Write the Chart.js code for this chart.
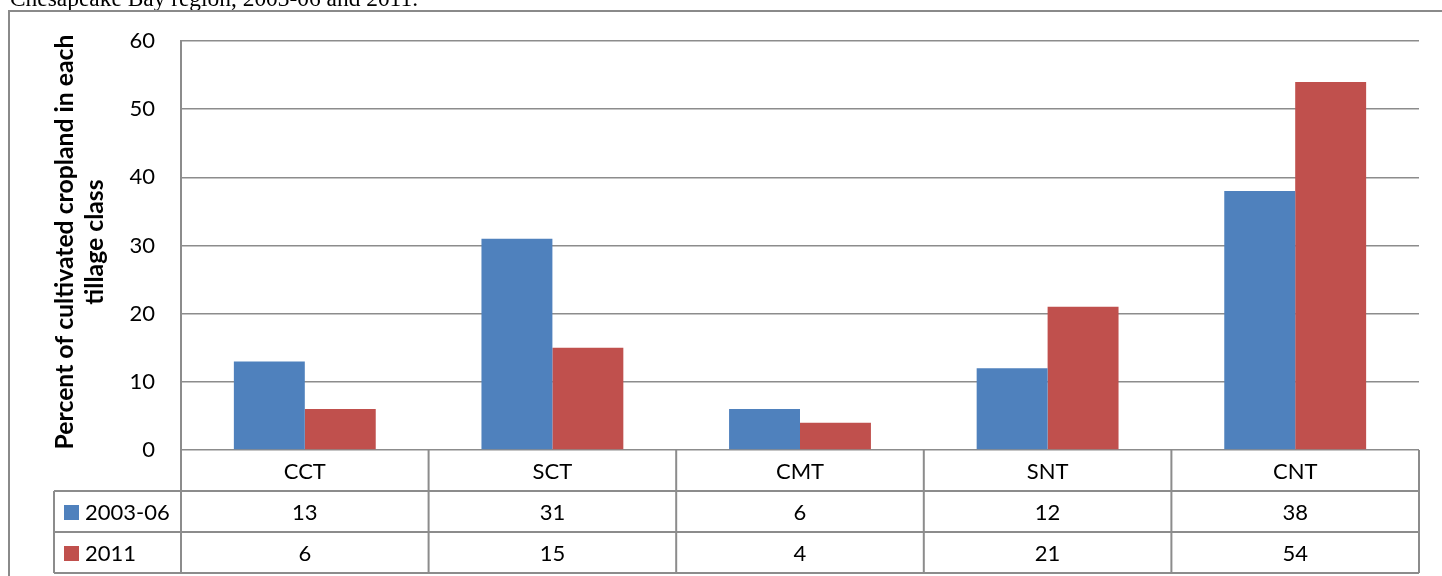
<!DOCTYPE html>
<html>
<head>
<meta charset="utf-8">
<script src="https://cdn.jsdelivr.net/npm/chart.js@4/dist/chart.umd.min.js"></script>
<style>
  html, body { margin: 0; padding: 0; background: #ffffff; }
  #c { display: block; }
</style>
</head>
<body>
<canvas id="c" width="1442" height="576"></canvas>
<script>
const categories = ["CCT", "SCT", "CMT", "SNT", "CNT"];
const series2003 = [13, 31, 6, 12, 38];
const series2011 = [6, 15, 4, 21, 54];
const seriesNames = ["2003-06", "2011"];
const yTicks = [0, 10, 20, 30, 40, 50, 60];
const pageTitle = "Chesapeake Bay region, 2003-06 and 2011.";
const yTitleLines = ["Percent of cultivated cropland in each", "tillage class"];

const BLUE = "#4F81BD";
const RED = "#C0504D";
const LINE = "#8c8c8c";
const FONT = "Lato, 'Noto Sans', sans-serif";

function fitFont(ctx, text, weight, family, target) {
  ctx.font = weight + " 100px " + family;
  const w = ctx.measureText(text).width;
  return 100 * target / w;
}

const decorPlugin = {
  id: "decor",
  afterDraw(chart) {
    const ctx = chart.ctx;
    const area = chart.chartArea;
    const xs = chart.scales.x;
    ctx.save();

    // page title (cut off at the top)
    const ts = fitFont(ctx, pageTitle, "normal", "'Liberation Serif', 'Times New Roman', serif", 408);
    ctx.font = ts.toFixed(2) + "px 'Liberation Serif', 'Times New Roman', serif";
    ctx.fillStyle = "#000";
    ctx.textAlign = "left";
    ctx.textBaseline = "alphabetic";
    ctx.fillText(pageTitle, 10, 6);

    // outer frame
    ctx.strokeStyle = "#8a8a8a";
    ctx.lineWidth = 2;
    ctx.beginPath();
    ctx.moveTo(9, 576);
    ctx.lineTo(9, 11);
    ctx.lineTo(1442, 11);
    ctx.stroke();

    // y-axis title
    const fs = fitFont(ctx, yTitleLines[0], "bold", FONT, 415);
    ctx.font = "bold " + fs.toFixed(2) + "px " + FONT;
    ctx.fillStyle = "#000";
    ctx.textAlign = "center";
    const cy = 242;
    const baseX = [73, 103];
    yTitleLines.forEach((t, i) => {
      ctx.save();
      ctx.translate(baseX[i], cy);
      ctx.rotate(-Math.PI / 2);
      ctx.fillText(t, 0, 0);
      ctx.restore();
    });

    // data table
    const n = categories.length;
    const colW = (area.right - area.left) / n;
    const top = area.bottom;
    const r1 = top + 41;
    const r2 = top + 82;
    const r3 = top + 123;
    const legendLeft = 54;

    ctx.strokeStyle = LINE;
    ctx.lineWidth = 2;
    ctx.beginPath();
    // horizontal lines
    ctx.moveTo(legendLeft, r1); ctx.lineTo(area.right, r1);
    ctx.moveTo(legendLeft, r2); ctx.lineTo(area.right, r2);
    ctx.moveTo(legendLeft, r3); ctx.lineTo(area.right, r3);
    // left column border
    ctx.moveTo(legendLeft, r1); ctx.lineTo(legendLeft, r3);
    // column borders
    for (let k = 0; k <= n; k++) {
      const x = area.left + k * colW;
      ctx.moveTo(x, top); ctx.lineTo(x, r3);
    }
    ctx.stroke();

    ctx.font = "22px " + FONT;
    ctx.fillStyle = "#000";
    ctx.textAlign = "center";
    ctx.textBaseline = "middle";
    const rowsY = [(top + r1) / 2 + 1, (r1 + r2) / 2 + 1, (r2 + r3) / 2 + 1];
    categories.forEach((c, i) => {
      const x = xs.getPixelForValue(i);
      ctx.fillText(c, x, rowsY[0]);
      ctx.fillText(String(series2003[i]), x, rowsY[1]);
      ctx.fillText(String(series2011[i]), x, rowsY[2]);
    });

    // legend keys
    const keyColors = [BLUE, RED];
    seriesNames.forEach((s, i) => {
      const y = rowsY[i + 1];
      ctx.fillStyle = keyColors[i];
      ctx.fillRect(64, y - 7.5, 15, 15);
      ctx.fillStyle = "#000";
      ctx.textAlign = "left";
      ctx.fillText(s, 85, y);
    });

    ctx.restore();
  }
};

new Chart(document.getElementById("c"), {
  type: "bar",
  data: {
    labels: categories,
    datasets: [
      { label: seriesNames[0], data: series2003, backgroundColor: BLUE, borderWidth: 0 },
      { label: seriesNames[1], data: series2011, backgroundColor: RED, borderWidth: 0 }
    ]
  },
  options: {
    responsive: false,
    animation: false,
    devicePixelRatio: 1,
    layout: { padding: { left: 0, top: 41, right: 23, bottom: 126 } },
    datasets: { bar: { categoryPercentage: 0.573, barPercentage: 1.0 } },
    plugins: {
      legend: { display: false },
      tooltip: { enabled: false },
      title: { display: false }
    },
    scales: {
      x: {
        display: false,
        grid: { display: false }
      },
      y: {
        min: 0,
        max: 60,
        afterFit(scale) { scale.width = 181; },
        afterBuildTicks(scale) { scale.ticks = yTicks.map(v => ({ value: v })); },
        ticks: {
          font: { family: FONT, size: 22 },
          color: "#000",
          padding: 26
        },
        grid: {
          color: LINE,
          lineWidth: 1.5,
          drawTicks: false,
          tickLength: 0
        },
        border: { display: true, color: LINE, width: 2 }
      }
    }
  },
  plugins: [decorPlugin]
});
</script>
</body>
</html>
